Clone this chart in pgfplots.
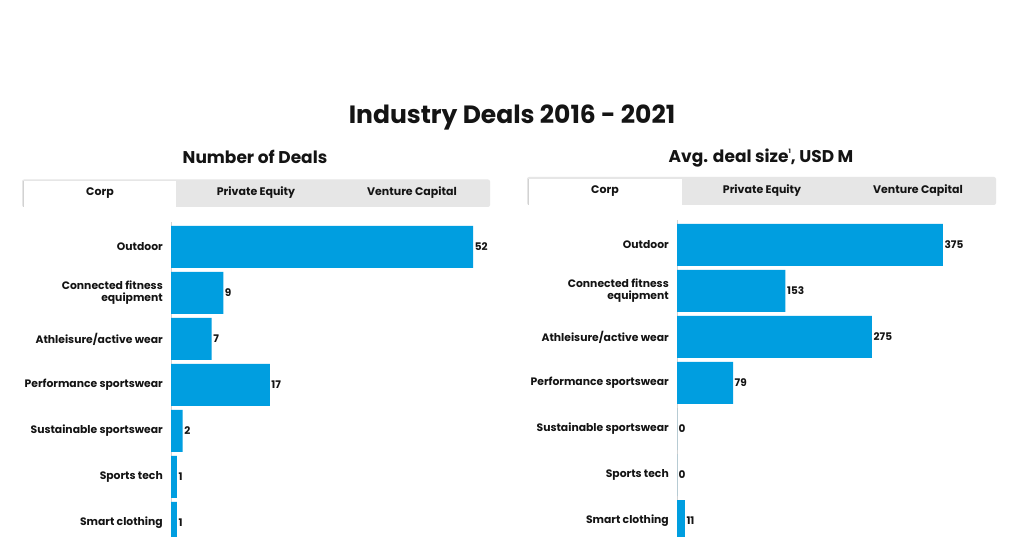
\documentclass[border=0pt]{standalone}
\usepackage{pgfplots}
\pgfplotsset{compat=1.18}
\usepackage{fontspec}
\setmainfont{Poppins}

\definecolor{barblue}{RGB}{0,158,224}
\definecolor{tabgray}{RGB}{230,230,230}
\definecolor{linegray}{RGB}{210,210,210}
\definecolor{textcol}{RGB}{20,20,20}

\pgfplotsset{
  dealbars/.style={
    scale only axis,
    anchor=north west,
    xbar, bar width=42pt,
    y dir=reverse,
    xmin=0,
    axis x line=none,
    axis y line=left,
    y axis line style={-, draw=linegray, line width=0.8pt},
    xtick=\empty,
    ytick={0,...,6},
    major tick length=0pt,
    yticklabels={Outdoor,{Connected fitness\\equipment},Athleisure/active wear,Performance sportswear,Sustainable sportswear,Sports tech,Smart clothing},
    yticklabel style={align=right, inner sep=0pt, xshift=-8pt, text=textcol,
      font=\fontsize{10.8}{12}\selectfont\bfseries},
    point meta=x,
    /pgf/number format/assume math mode=true,
    nodes near coords,
    every node near coord/.append style={anchor=west, inner sep=1.5pt, text=textcol,
      font=\fontsize{10.5}{11}\selectfont\bfseries},
  },
}

\begin{document}
\begin{tikzpicture}[x=1pt,y=1pt]
\useasboundingbox (0,0) rectangle (1024,536);
\fill[white] (0,0) rectangle (1024,536);

\node[text=textcol, font=\fontsize{25}{30}\selectfont\bfseries] at (512,419) {Industry Deals 2016 - 2021};
\node[text=textcol, font=\fontsize{17}{20}\selectfont\bfseries] at (255,379) {Number of Deals};
\node[text=textcol, font=\fontsize{17}{20}\selectfont\bfseries] at (761,378) {Avg. deal size\raisebox{0.9ex}{\fontsize{6}{6}\selectfont 1}, USD M};

% tab bar, left
\fill[tabgray, rounded corners=2pt] (22,329) rectangle (490,356.5);
\fill[white] (23.5,329) rectangle (176,355);
\draw[linegray, line width=0.5pt] (23.5,329) -- (23.5,355);
\begin{scope}[every node/.style={text=textcol, font=\fontsize{11}{12}\selectfont\bfseries}]
\node at (100,343) {Corp};
\node at (256,343) {Private Equity};
\node at (412,343) {Venture Capital};
\end{scope}

% tab bar, right
\fill[tabgray, rounded corners=2pt] (527,331) rectangle (996,359);
\fill[white] (528.5,331) rectangle (682,357);
\draw[linegray, line width=0.5pt] (528.5,331) -- (528.5,357);
\begin{scope}[every node/.style={text=textcol, font=\fontsize{11}{12}\selectfont\bfseries}]
\node at (605,345) {Corp};
\node at (762,345) {Private Equity};
\node at (918,345) {Venture Capital};
\end{scope}

% Number of deals
\begin{axis}[dealbars,
  at={(171pt,314pt)},
  width=348.6pt, height=314pt,
  xmax=60, ymin=-0.543, ymax=6.283]
\addplot[fill=barblue, draw=none] coordinates {
  (52,0) (9,1) (7,2) (17,3) (2,4) (1,5) (1,6)};
\end{axis}

% Average deal size
\begin{axis}[dealbars,
  at={(677pt,316pt)},
  width=319pt, height=316pt,
  xmax=450, ymin=-0.543, ymax=6.326]
\addplot[fill=barblue, draw=none] coordinates {
  (375,0) (153,1) (275,2) (79,3) (0,4) (0,5) (11,6)};
\end{axis}
\end{tikzpicture}
\end{document}
